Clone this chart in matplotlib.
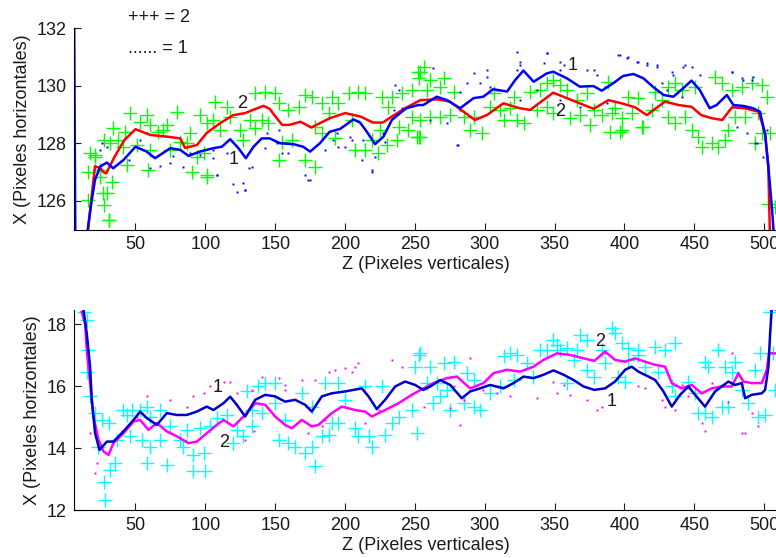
import matplotlib
matplotlib.use("Agg")
import matplotlib.pyplot as plt

plt.rcParams["font.family"] = ["Liberation Sans", "DejaVu Sans"]

# ---- top panel: smoothed curves ----
top_line2_z = [15, 16, 21, 25, 27, 29, 35, 42, 50, 60.5, 72.6, 82, 85.5, 94, 101, 110.6, 120, 128.6,
               134, 141.6, 146, 151, 155, 160, 164, 168, 176, 182, 189, 200, 211, 220, 227, 233.5,
               243, 254, 265.7, 275, 284.8, 293, 301.5, 313.4, 325, 332.5, 349, 358.8, 368, 378,
               388.6, 398, 407.7, 416, 429, 438.7, 448, 455, 462.6, 470, 477, 486, 496, 500.7, 503,
               504.3]
top_line2 = [124.5, 125.0, 127.2, 127.13, 127.0, 126.95, 127.53, 128.11, 128.49, 128.29, 128.23,
             128.17, 127.84, 127.94, 128.36, 128.7, 128.98, 129.05, 129.16, 129.3, 129.2, 128.88,
             128.64, 128.64, 128.69, 128.75, 128.55, 128.7, 128.87, 129.05, 128.93, 128.72, 128.72,
             128.93, 129.22, 129.5, 129.53, 129.45, 129.1, 128.81, 128.98, 129.39, 129.22, 129.16,
             129.76, 129.57, 129.39, 129.2, 129.5, 129.39, 129.25, 128.98, 129.45, 129.33, 129.27,
             128.98, 128.87, 128.81, 129.25, 129.22, 129.1, 128.35, 127.19, 124.5]

top_line1_z = [6, 7, 15.6, 18, 21, 24.7, 29.5, 34, 41.4, 50, 58, 64, 75, 82, 88, 96, 105.8, 111.8,
               117.8, 123.7, 129, 134.5, 140.4, 146, 153.5, 163, 170, 175, 182, 189, 196.5, 206,
               210.8, 215.6, 221.5, 227.5, 233.5, 240.7, 244, 252.5, 256, 265.7, 273, 282.4, 292,
               299, 306, 316, 321.8, 327.7, 335, 344.4, 349, 358.8, 368, 377.8, 383.8, 392, 399,
               406.4, 413.6, 420.8, 428, 435, 442, 448, 454, 461, 466, 473.3, 478, 485, 492, 497,
               500.7, 503, 505.5, 507]
top_line1 = [133.0, 124.0, 124.9, 125.8, 126.72, 127.19, 127.33, 127.13, 127.42, 127.88, 127.71,
             127.48, 127.83, 127.77, 127.56, 127.71, 127.83, 127.88, 128.14, 127.83, 127.48, 127.88,
             128.17, 128.17, 128.0, 127.97, 127.88, 127.71, 128.0, 128.4, 128.5, 128.83, 128.72,
             128.4, 127.97, 128.23, 128.81, 129.1, 129.22, 129.33, 129.33, 129.62, 129.5, 129.22,
             129.57, 129.62, 129.88, 129.8, 130.2, 130.53, 130.14, 130.43, 130.49, 130.26, 129.97,
             129.99, 129.83, 130.09, 130.34, 130.41, 130.26, 129.95, 129.68, 129.62, 129.91, 130.18,
             129.85, 129.22, 129.33, 129.68, 129.33, 129.3, 129.22, 129.1, 128.3, 127.2, 125.8,
             124.8]

# ---- top panel: raw points ----
top_pts2_z = [46.2, 58.1, 79.6, 42.6, 53.3, 60.5, 72.4, 66.4, 27.1, 31.9, 37.8, 41.4, 17.5, 21.1,
              16.3, 24.7, 33.0, 29.5, 27.1, 30.7, 59.3, 43.8, 74.8, 82.0, 86.7, 93.9, 101.0, 98.7,
              101.0, 105.8, 107.0, 115.4, 117.8, 124.9, 110.6, 127.3, 96.3, 89.1, 34.2, 70.0, 60.5,
              50.9, 16.3, 24.7, 27.0, 30.7, 21.0, 90.3, 101.0,
              135.7, 142.8, 150.0, 132.1, 140.4, 145.2, 135.7, 152.4, 159.5, 166.7, 171.4, 176.2,
              154.7, 161.9, 152.4, 171.4, 178.6, 183.4, 190.5, 188.2, 195.3, 183.4, 192.9, 202.5,
              209.6, 214.4, 207.2, 214.4, 219.2, 223.9, 226.3, 233.5, 240.7, 247.8, 252.6, 253.8,
              231.1, 238.3, 245.4, 252.6, 247.8, 204.9, 178.6, 229.9, 237.0, 251.3, 225.1, 252.5,
              256.2, 270.5, 261.0, 258.6, 268.1, 277.7, 253.8, 261.0, 268.1, 275.3, 253.8, 284.8,
              292.0, 289.6, 297.9, 303.9, 311.1, 318.2, 313.5, 323.0, 327.8, 332.5, 339.7, 344.5,
              349.2, 354.0, 358.8, 337.3, 344.5, 349.2, 361.2, 368.3, 375.5, 377.9, 366.0, 373.1,
              306.3, 320.6,
              383.8, 390.9, 398.1, 405.2, 412.4, 388.5, 402.9, 410.0, 422.0, 431.5, 436.3, 426.7,
              419.6, 431.5, 436.3, 443.4, 441.0, 450.6, 448.2, 453.0, 455.4, 462.5, 467.3, 472.1,
              474.4, 464.9, 469.7, 476.8, 484.0, 491.1, 498.3, 501.9, 479.2, 486.4, 495.9, 493.5,
              498.3, 504.3, 503.1, 507.8, 398.1, 393.3, 389.7, 396.9, 413.6]
top_pts2 = [129.04, 128.98, 129.1, 128.4, 128.75, 128.64, 128.64, 128.4, 128.1, 128.0, 128.1,
            127.88, 127.65, 127.53, 127.0, 127.07, 126.66, 126.26, 125.85, 125.33, 127.07, 127.24,
            127.77, 128.06, 128.0, 127.53, 126.9, 127.65, 128.7, 128.81, 129.45, 129.27, 128.93,
            128.46, 128.46, 128.12, 128.98, 128.35, 128.52, 128.46, 127.77, 127.94, 126.03,
            126.84, 126.26, 125.33, 127.59, 127.01, 126.84,
            129.74, 129.8, 129.74, 128.81, 128.81, 128.7, 128.52, 129.39, 129.16, 129.27, 129.68,
            129.62, 128.06, 128.12, 127.42, 127.42, 127.19, 129.39, 129.62, 129.04, 129.39, 128.35,
            128.17, 129.74, 129.8, 129.74, 127.77, 127.77, 128.12, 127.65, 129.62, 129.62, 129.74,
            129.85, 130.26, 130.49, 129.27, 128.58, 128.46, 128.23, 128.93, 128.81, 128.58, 127.94,
            128.11, 128.23, 128.46, 130.49,
            130.67, 130.26, 130.2, 129.85, 129.97, 129.8, 128.81, 128.93, 128.93, 128.98, 128.23,
            128.93, 128.93, 128.46, 128.35, 129.27, 129.16, 129.22, 128.81, 128.81, 128.7, 129.8,
            129.85, 130.09, 130.2, 130.03, 129.85, 129.16, 129.27, 129.04, 128.87, 128.98, 128.64,
            129.16, 129.51, 129.74, 129.74, 129.62,
            128.98, 129.04, 128.46, 129.04, 128.58, 130.14, 129.62, 129.56, 129.8, 129.97, 130.09,
            129.51, 129.16, 128.93, 128.7, 128.93, 129.85, 129.97, 128.46, 128.23, 127.88, 128.0,
            127.88, 128.12, 128.46, 130.32, 130.09, 129.85, 129.97, 130.09, 130.03, 129.62, 128.93,
            128.93, 129.04, 128.0, 128.35, 128.35, 125.9, 125.8, 128.87, 129.22, 128.4, 128.4,
            128.58]

top_pts1_z = [108.2, 120.0, 122.5, 130.9, 175.0, 219.0, 96.0, 67.6, 77.1, 60.5, 24.7, 29.5, 105.8,
              115.4, 144.0, 151.1, 203.6, 191.7, 194.1, 213.2, 227.5, 234.7, 238.3,
              322.9, 325.3, 344.4, 354.0, 325.3, 337.2, 373.0, 380.2, 397.0, 401.7, 409.0, 416.0,
              423.1, 433.9, 442.2, 454.2, 476.8, 485.2, 492.3, 487.5, 494.7, 296.7, 301.5, 303.8,
              282.4, 272.8, 260.9, 280.0, 354.0, 368.3, 387.4, 430.3, 480.4, 499.5, 501.9,
              152.4, 159.5, 171.4, 173.8, 154.7, 128.5, 133.3, 142.8, 185.8, 195.3, 204.9, 219.2,
              221.6, 235.9, 240.7, 212.0, 200.1, 228.7,
              395.7, 402.9, 410.0, 416.0, 423.1, 435.1, 443.4, 448.2, 476.8, 484.0, 491.1, 426.7,
              441.0, 457.7, 386.2, 493.5, 500.7,
              53.3, 58.1, 84.3, 89.1, 105.8, 127.3, 128.5, 108.2, 25.9, 45.0, 74.8,
              344.5, 342.1, 325.4, 323.0, 292.0, 301.5, 287.2, 282.4, 263.3, 281.2, 356.4, 354.0,
              377.9, 308.7]
top_pts1 = [126.9, 126.6, 126.3, 127.14, 126.73, 127.0, 127.6, 127.2, 127.55, 127.14, 127.77,
            127.88, 127.77, 127.65, 128.35, 128.0, 128.23, 128.11, 128.35, 128.11, 128.35, 129.16,
            129.85,
            131.19, 130.84, 131.13, 130.84, 129.5, 129.85, 130.55, 130.38, 131.07, 130.95, 130.84,
            130.78, 130.67, 130.49, 130.67, 130.38, 130.49, 130.2, 130.32, 128.35, 128.0, 130.09,
            130.55, 129.97, 129.16, 128.7, 128.81, 127.94, 129.5, 129.27, 129.39, 129.85, 128.58,
            127.53, 128.46,
            128.46, 127.65, 126.9, 126.72, 127.65, 126.38, 127.19, 127.82, 127.77, 127.88, 128.12,
            127.07, 127.53, 130.03, 129.22, 127.42, 127.88, 128.06,
            131.07, 131.01, 130.84, 130.72, 130.72, 130.38, 130.72, 130.67, 130.49, 130.26, 130.2,
            130.09, 129.62, 129.51, 129.97, 128.0, 128.23,
            128.1, 128.35, 127.19, 127.65, 127.48, 126.61, 126.38, 126.9, 128.0, 127.42, 127.3,
            131.13, 130.78, 130.72, 130.55, 130.43, 130.32, 130.09, 129.8, 130.61, 127.94, 130.72,
            130.55, 130.55, 129.85]

# ---- bottom panel: smoothed curves ----
bot_line1_z = [12.8, 15.1, 17.5, 18.7, 21.1, 24.2, 29.5, 34.2, 41.4, 48.6, 53.3, 58.1, 65.3, 72.4,
               79.6, 86.7, 93.9, 101, 105.8, 113, 117.8, 122.5, 128.5, 135.7, 142.8, 150, 157.1,
               164.3, 171.4, 176.2, 183.4, 190.5, 200.1, 212, 216.8, 222.7, 228.7, 235.9, 243,
               250.2, 256, 261, 268.1, 275.3, 283.6, 289.6, 296.7, 303.9, 313.5, 320.6, 327.8,
               334.9, 342.1, 349.2, 356.4, 363.6, 370.7, 378.5, 386.2, 393.3, 400.5, 405.2, 410,
               417.2, 422, 427.9, 433.9, 439.8, 445.8, 450.6, 457.7, 464.9, 474.4, 479.2, 484,
               486.4, 491.1, 498.3, 500.7, 503.1, 504.3, 505.5, 510]
bot_line1 = [18.46, 17.71, 16.63, 15.56, 14.48, 13.94, 14.21, 14.21, 14.54, 14.91, 15.18, 14.97,
             14.75, 15.13, 15.07, 15.07, 15.18, 15.34, 15.23, 15.45, 15.66, 15.4, 15.02, 15.56,
             15.72, 15.67, 15.5, 15.56, 15.4, 15.18, 15.67, 15.77, 15.83, 15.93, 15.67, 15.26,
             15.56, 15.99, 16.15, 16.04, 15.88, 15.99, 16.2, 16.04, 15.61, 15.83, 15.93, 16.04,
             15.93, 16.1, 16.31, 16.26, 16.37, 16.51, 16.37, 16.2, 15.99, 15.88, 15.93, 16.15,
             16.53, 16.63, 16.47, 16.31, 16.2, 15.83, 15.34, 15.72, 15.99, 15.72, 15.34, 15.83,
             16.15, 16.04, 16.1, 15.61, 15.72, 15.77, 15.88, 16.63, 17.71, 18.52, 18.46]

bot_line2_z = [11.5, 14, 15.1, 17.5, 19.9, 23.5, 27.1, 30.7, 34.2, 41.4, 48.6, 53.3, 59.3, 65.3,
               72.4, 79.6, 87.9, 93.9, 101, 108.2, 113, 120.1, 127.3, 135.7, 142.8, 150, 157.1,
               161.9, 169.1, 176.2, 181, 190.5, 197.7, 207.2, 214.4, 219.2, 228.7, 238.3, 247.8,
               255, 263.3, 272.9, 280.1, 289.6, 299.1, 306.3, 315.8, 325.4, 334.9, 342.1, 351.6,
               361.2, 370.7, 378.5, 386.2, 393.3, 400.5, 407.6, 414.8, 422, 429.1, 433.9, 441,
               448.2, 455.4, 462.5, 469.7, 476.8, 481.6, 485.2, 491.1, 498.3, 501.9, 503.5, 510]
bot_line2 = [18.4, 18.0, 17.17, 16.1, 15.02, 14.27, 13.89, 13.78, 14.16, 14.48, 14.86, 14.91,
             14.59, 14.81, 14.54, 14.38, 14.16, 14.21, 14.48, 14.75, 14.91, 14.7, 15.02, 15.45,
             15.4, 15.02, 14.75, 14.64, 14.91, 14.7, 14.75, 15.13, 15.34, 15.23, 15.18, 15.02,
             15.23, 15.45, 15.72, 15.9, 16.1, 16.26, 16.31, 15.93, 16.1, 16.42, 16.53, 16.47,
             16.63, 16.85, 17.06, 17.01, 16.9, 16.82, 17.12, 16.85, 16.79, 16.9, 16.79, 16.69,
             16.63, 16.1, 15.93, 16.04, 15.77, 15.93, 15.99, 15.99, 16.42, 16.15, 16.1, 16.1,
             16.53, 17.06, 17.06]

# ---- bottom panel: raw points ----
bot_pts2_z = [12.8, 15.1, 16.3, 15.1, 17.5, 21.1, 25.9, 30.7, 27.1, 28.3, 31.9, 35.4, 23.5, 36.6,
              46.2, 47.4, 53.3, 58.1, 41.4, 60.5, 54.5, 60.5, 58.1, 72.4, 67.6, 74.8, 82.0, 84.3,
              91.5, 98.7, 91.5, 99.9, 86.7, 96.3, 103.4, 108.2, 115.4, 122.5, 127.3, 129.7, 120.1,
              67.6, 43.8,
              133.3, 138.0, 142.8, 150.0, 133.3, 140.4, 152.4, 159.5, 164.3, 171.4, 176.2, 178.6,
              183.4, 188.2, 190.5, 195.3, 169.1, 176.2, 185.8, 195.3, 207.2, 209.6, 216.8, 219.2,
              228.7, 233.5, 238.3, 247.8, 251.4, 250.2, 252.6, 214.4, 226.3, 200.1, 150.0, 157.1,
              253.8, 261.0, 270.5, 277.7, 258.6, 265.7, 272.9, 263.3, 268.1, 287.2, 292.0, 284.8,
              292.0, 296.7, 303.9, 311.1, 313.5, 318.2, 323.0, 330.1, 334.9, 339.7, 344.5, 349.2,
              351.6, 354.0, 358.8, 363.6, 366.0, 368.3, 373.1, 373.1, 377.9, 358.8, 320.6, 275.3,
              390.9, 393.3, 383.8, 386.2, 398.1, 402.9, 410.0, 402.9, 410.0, 422.0, 429.1, 436.3,
              395.7, 400.5, 414.8, 424.3, 433.9, 436.3, 445.8, 450.6, 453.0, 457.7, 462.5, 457.7,
              467.3, 460.1, 472.1, 479.2, 476.8, 493.5, 469.7, 474.4, 488.8, 495.9, 500.7, 497.1,
              504.3, 506.7, 507.8, 484.0]
bot_pts2 = [18.41, 18.14, 17.17, 16.47, 15.67, 15.13, 14.91, 14.81, 12.92, 12.33, 13.3, 13.52,
            14.05, 14.27, 14.38, 15.23, 15.23, 15.34, 15.23, 15.02, 14.27, 14.05, 13.52, 13.46,
            15.23, 14.7, 14.27, 14.05, 13.78, 13.84, 13.25, 13.25, 14.59, 14.64, 14.7, 14.97,
            15.07, 14.59, 14.38, 15.83, 14.16, 14.27, 15.07,
            15.23, 15.99, 16.1, 16.1, 14.7, 15.13, 14.27, 14.16, 14.05, 13.84, 14.05, 13.41,
            14.38, 14.43, 14.81, 14.81, 15.77, 15.34, 16.1, 16.1, 14.64, 14.38, 14.38, 14.05,
            14.43, 14.81, 15.02, 15.23, 14.48, 16.63, 17.01, 15.99, 15.99, 15.56, 15.45, 14.91,
            17.06, 16.63, 16.74, 16.79, 16.1, 16.1, 15.88, 15.45, 15.67, 16.42, 16.2, 15.45,
            15.34, 15.23, 15.77, 15.99, 16.96, 17.06, 17.01, 16.74, 16.31, 17.17, 17.17, 17.49,
            17.33, 17.17, 17.22, 16.85, 17.17, 17.66, 17.49, 16.53, 16.31, 16.1, 16.2, 15.23,
            17.87, 17.71, 17.17, 16.74, 17.39, 17.22, 17.17, 16.85, 17.01, 17.28, 17.17, 17.39,
            16.31, 16.15, 16.63, 16.47, 15.99, 15.67, 16.15, 15.77, 15.13, 15.13, 15.02, 16.79,
            17.17, 16.63, 16.63, 16.79, 16.47, 16.53, 15.34, 15.34, 15.45, 15.02, 15.07, 17.06,
            18.41, 17.06, 15.88, 15.88]

bot_pts1_z = [108.2, 113.0, 117.8, 98.7, 91.5, 74.8, 58.1, 22.3, 21.1, 17.5, 50.9, 86.7, 103.4,
              122.5, 40.2,
              140.4, 152.4, 157.1, 169.1, 178.6, 188.2, 192.9, 200.1, 204.9, 207.2, 209.6, 233.5,
              240.7, 133.3, 134.5, 128.5, 173.8, 185.8, 224.0, 214.4, 157.1, 183.4,
              289.6, 277.7, 284.8, 299.1, 308.7, 318.2, 337.3, 282.4, 275.3, 349.2, 351.6, 361.2,
              373.1, 380.3, 256.2, 356.4,
              383.8, 390.9, 410.0, 414.8, 426.7, 429.1, 436.3, 455.4, 457.7, 474.4, 484.0, 486.4,
              491.1, 495.9, 386.2, 476.8, 441.0, 445.8, 462.5]
bot_pts1 = [15.88, 16.15, 16.15, 15.77, 15.67, 15.56, 15.67, 13.52, 13.19, 14.48, 15.02, 15.34,
            15.99, 15.77, 14.54,
            16.31, 16.26, 16.04, 16.2, 16.2, 16.47, 16.53, 16.58, 16.47, 16.63, 16.74, 16.85,
            16.63, 15.88, 14.54, 14.27, 14.48, 14.91, 15.23, 14.81, 15.88, 14.7,
            16.9, 15.99, 15.56, 15.88, 15.77, 15.67, 15.61, 14.75, 15.29, 16.15, 15.77, 15.72,
            15.56, 15.23, 15.34, 16.04,
            15.34, 15.56, 15.99, 15.93, 15.56, 15.34, 15.23, 14.81, 14.54, 15.5, 14.48, 14.48,
            15.13, 14.7, 17.06, 17.06, 16.04, 15.67, 16.1]

x_ticks = [50, 100, 150, 200, 250, 300, 350, 400, 450, 500]
top_yticks = [126, 128, 130, 132]
bot_yticks = [12, 14, 16, 18]

fig = plt.figure(figsize=(7.76, 5.58), dpi=100)
ax_top = fig.add_axes([0.0954, 0.5887, 0.9073, 0.3606])
ax_bot = fig.add_axes([0.0954, 0.0860, 0.9073, 0.3584])

text_color = "#1a1a1a"


def style_axes(ax, yticks, ylim):
    ax.set_xlim(6, 510)
    ax.set_ylim(*ylim)
    ax.set_xticks(x_ticks)
    ax.set_yticks(yticks)
    ax.spines["top"].set_visible(False)
    ax.spines["right"].set_visible(False)
    ax.tick_params(direction="in", length=5, width=0.8, labelsize=13,
                   colors=text_color, pad=5)
    ax.set_xlabel("Z (Pixeles verticales)", fontsize=13, color=text_color, labelpad=2)
    ax.set_ylabel("X (Pixeles horizontales)", fontsize=13, color=text_color, labelpad=4)


# top panel
ax_top.plot(top_pts2_z, top_pts2, linestyle="none", marker="+", markersize=10,
            markeredgewidth=1.0, color="#00ff00", clip_on=True)
ax_top.plot(top_pts1_z, top_pts1, linestyle="none", marker="s", markersize=1.4,
            markeredgewidth=0, color="#0000ff")
ax_top.plot(top_line2_z, top_line2, color="#ff0000", linewidth=1.8)
ax_top.plot(top_line1_z, top_line1, color="#0000ff", linewidth=1.8)
style_axes(ax_top, top_yticks, (125, 132))

ax_top.text(44.7, 132.39, "+++ = 2", fontsize=13, color=text_color, va="center", clip_on=False)
ax_top.text(44.7, 131.31, "...... = 1", fontsize=13, color=text_color, va="center")
ax_top.text(126.3, 129.4, "2", fontsize=13, color=text_color, ha="center", va="center")
ax_top.text(120.0, 127.42, "1", fontsize=13, color=text_color, ha="center", va="center")
ax_top.text(363.0, 130.72, "1", fontsize=13, color=text_color, ha="center", va="center")
ax_top.text(354.0, 129.09, "2", fontsize=13, color=text_color, ha="center", va="center")

# bottom panel
ax_bot.plot(bot_pts2_z, bot_pts2, linestyle="none", marker="+", markersize=10,
            markeredgewidth=1.0, color="#00ffff")
ax_bot.plot(bot_pts1_z, bot_pts1, linestyle="none", marker="s", markersize=1.4,
            markeredgewidth=0, color="#ff00ff")
ax_bot.plot(bot_line2_z, bot_line2, color="#ff00ff", linewidth=1.8)
ax_bot.plot(bot_line1_z, bot_line1, color="#0000cc", linewidth=1.8)
style_axes(ax_bot, bot_yticks, (12, 18.46))

ax_bot.text(109.0, 15.95, "1", fontsize=13, color=text_color, ha="center", va="center")
ax_bot.text(113.5, 14.17, "2", fontsize=13, color=text_color, ha="center", va="center")
ax_bot.text(382.6, 17.43, "2", fontsize=13, color=text_color, ha="center", va="center")
ax_bot.text(390.5, 15.5, "1", fontsize=13, color=text_color, ha="center", va="center")

fig.savefig("out.png", dpi=100)
